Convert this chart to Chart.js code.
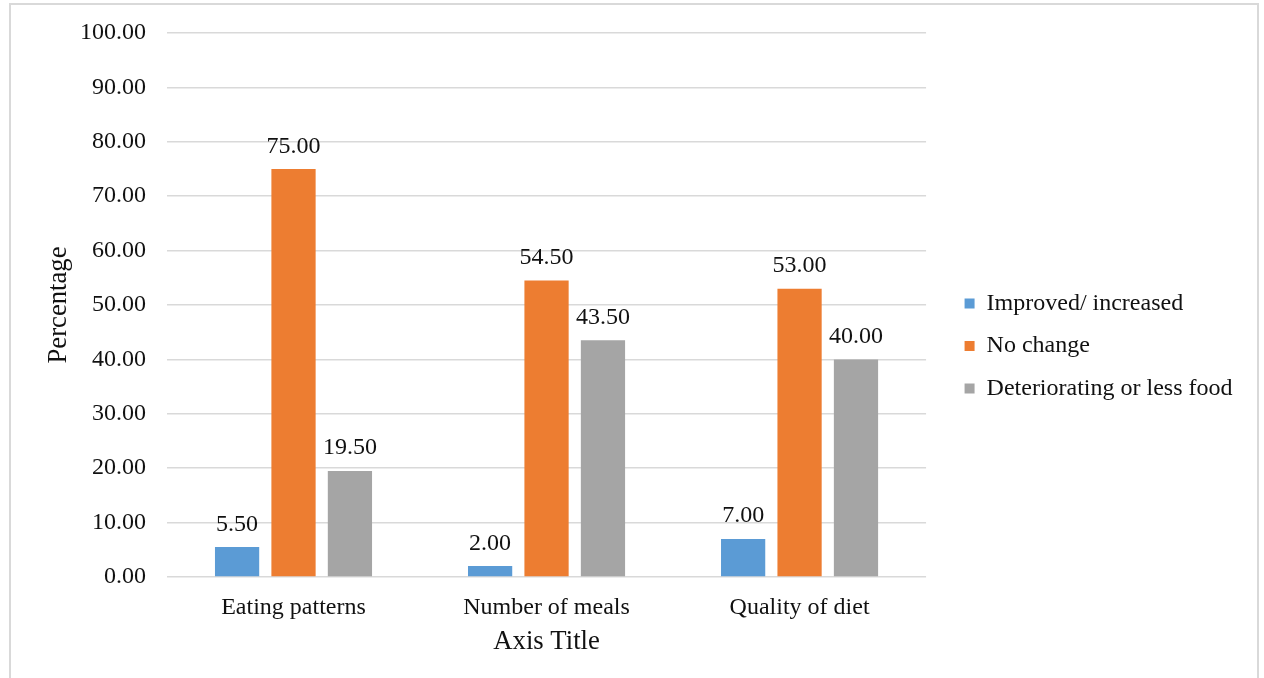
<!DOCTYPE html>
<html>
<head>
<meta charset="utf-8">
<title>Changes in food consumption</title>
<script src="https://cdn.jsdelivr.net/npm/chart.js@4.4.1/dist/chart.umd.min.js"></script>
<style>
  html, body { margin: 0; padding: 0; background: #ffffff; overflow: hidden; }
  #wrap { position: relative; width: 1264px; height: 678px; }
  #frame {
    position: absolute; left: 9px; top: 3px; width: 1250px; height: 720px;
    border: 2px solid #d9d9d9; box-sizing: border-box; pointer-events: none;
  }
  #c { position: absolute; left: 0; top: 0; }
</style>
</head>
<body>
<div id="wrap">
  <div id="frame"></div>
  <canvas id="c" width="1264" height="678"></canvas>
</div>
<script>
// Categories on the x axis
const categories = ['Eating patterns', 'Number of meals', 'Quality of diet'];

// Series names (legend) and their values, in percent
const seriesNames = ['Improved/ increased', 'No change', 'Deteriorating or less food'];
const improvedValues = [5.50, 2.00, 7.00];
const noChangeValues = [75.00, 54.50, 53.00];
const deterioratingValues = [19.50, 43.50, 40.00];

// Value axis range and step
const yMin = 0;
const yMax = 100;
const yStep = 10;

// Axis titles
const yTitle = 'Percentage';
const xTitle = 'Axis Title';

const seriesColors = ['#5b9bd5', '#ed7d31', '#a5a5a5'];
const FONT = '"Liberation Serif", "Times New Roman", serif';
const TEXT = '#111111';
const GRID = '#d9d9d9';

// Writes each bar's value above it
const valueLabels = {
  id: 'valueLabels',
  afterDatasetsDraw(chart) {
    const ctx = chart.ctx;
    ctx.save();
    ctx.font = '24px ' + FONT;
    ctx.fillStyle = TEXT;
    ctx.textAlign = 'center';
    ctx.textBaseline = 'alphabetic';
    chart.data.datasets.forEach((ds, di) => {
      const meta = chart.getDatasetMeta(di);
      meta.data.forEach((bar, i) => {
        ctx.fillText(Number(ds.data[i]).toFixed(2), bar.x, bar.y - 16.5);
      });
    });
    ctx.restore();
  }
};

// Moves the legend block off the plot edge and centres it on its rows
const legendPlacement = {
  id: 'legendPlacement',
  afterLayout(chart) {
    const lg = chart.legend;
    if (!lg) return;
    const dx = 20, dy = -9.5;
    lg.left += dx; lg.right += dx;
    lg.top += dy; lg.bottom += dy;
  }
};

new Chart(document.getElementById('c'), {
  type: 'bar',
  data: {
    labels: categories,
    datasets: [
      { label: seriesNames[0], data: improvedValues, backgroundColor: seriesColors[0] },
      { label: seriesNames[1], data: noChangeValues, backgroundColor: seriesColors[1] },
      { label: seriesNames[2], data: deterioratingValues, backgroundColor: seriesColors[2] }
    ].map(d => Object.assign(d, {
      borderWidth: 0,
      categoryPercentage: 0.669,
      barPercentage: 0.784
    }))
  },
  options: {
    responsive: false,
    animation: false,
    devicePixelRatio: 1,
    layout: { padding: { left: 10, right: 41.5, top: 33, bottom: 0 } },
    plugins: {
      tooltip: { enabled: false },
      title: { display: false },
      legend: {
        position: 'right',
        align: 'center',
        labels: {
          color: TEXT,
          font: { family: FONT, size: 24 },
          boxWidth: 10,
          boxHeight: 10,
          padding: 18.5
        }
      }
    },
    scales: {
      x: {
        grid: { display: false },
        border: { display: false },
        ticks: {
          color: TEXT,
          font: { family: FONT, size: 24 },
          padding: 8,
          maxRotation: 0
        },
        title: {
          display: true,
          text: xTitle,
          color: TEXT,
          font: { family: FONT, size: 26.7 },
          padding: { top: 0, bottom: 20 }
        },
        afterFit(scale) { scale.height = 101; }
      },
      y: {
        min: yMin,
        max: yMax,
        border: { display: false },
        grid: { color: GRID, lineWidth: 1.5, drawTicks: false },
        ticks: {
          stepSize: yStep,
          color: TEXT,
          font: { family: FONT, size: 24, lineHeight: 1 },
          padding: 21,
          callback: v => Number(v).toFixed(2)
        },
        title: {
          display: true,
          text: yTitle,
          color: TEXT,
          font: { family: FONT, size: 26.7 },
          padding: { top: 33, bottom: 0 }
        },
        afterFit(scale) { scale.width = 157; }
      }
    }
  },
  plugins: [valueLabels, legendPlacement]
});
</script>
</body>
</html>
